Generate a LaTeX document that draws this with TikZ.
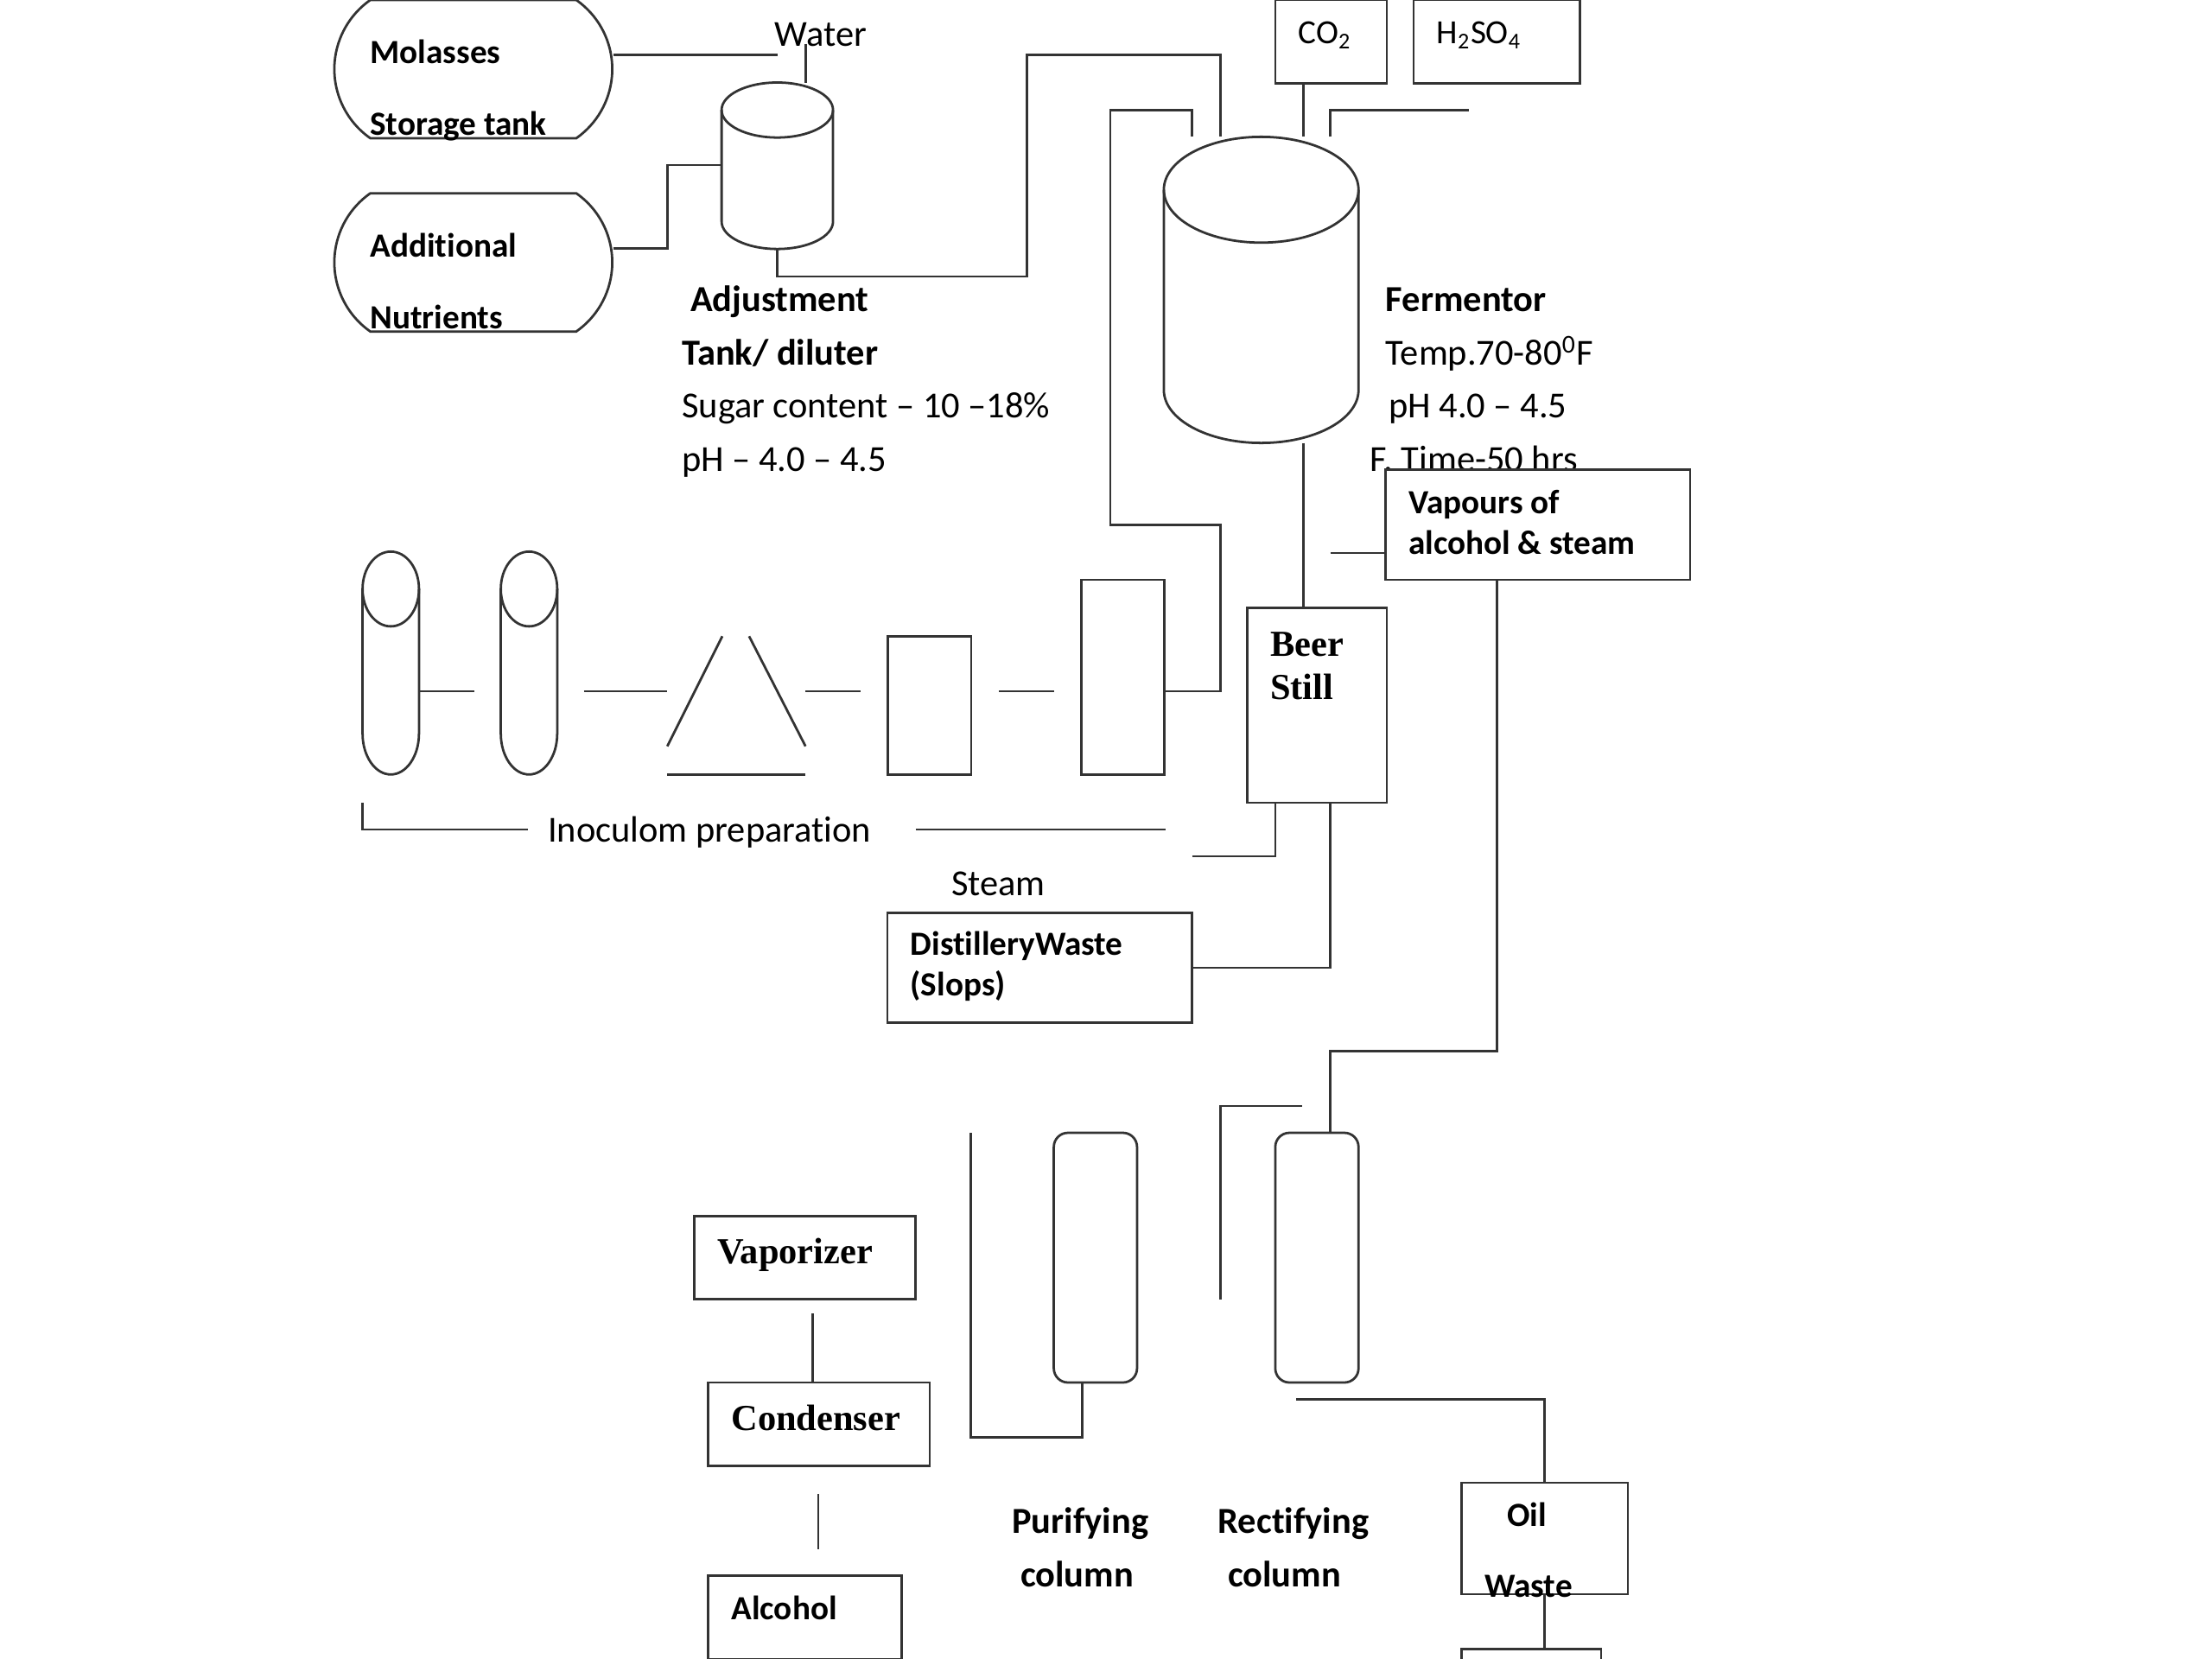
\documentclass[tikz,border=0pt]{standalone}
\usepackage{fontspec}
\setmainfont{Carlito}[Ligatures = {TeX, NoCommon}]
\newfontfamily\serifbold{Liberation Serif}
\usetikzlibrary{shapes.misc}
\tikzset{
	pipe/.style = {line width = 0.85pt, draw = black!80, line join = miter},
	box/.style = {rectangle, draw = black!80, line width = 0.85pt, fill = white, inner sep = 0pt},
	tank/.style = {rounded rectangle, rounded rectangle arc length = 110, draw = black!80, line width = 0.85pt, minimum width = 98.5pt, minimum height = 49pt, inner sep = 0pt},
	column/.style = {box, rounded corners = 5pt, minimum width = 29.5pt, minimum height = 88.5pt},
	plain/.style = {anchor = base west, inner sep = 0pt, font = \fontsize{13}{15}\selectfont},
	small/.style = {plain, font = \fontsize{12}{14}\selectfont},
	heavy/.style = {plain, font = \fontsize{13}{15}\selectfont\bfseries},
	heavysmall/.style = {plain, font = \fontsize{12}{14}\selectfont\bfseries},
	times/.style = {plain, font = \fontsize{13}{15}\selectfont\serifbold\bfseries}
}
% name, centre, half width, half height, top and bottom end radius (pt)
\newcommand{\drumnode}[6]{
	\node (#1) at (#2) [rectangle, inner sep = 0pt, outer sep = 0pt, minimum width = 2*#3pt, minimum height = 2*#4pt] {};
	\draw[pipe] ([yshift = -#5pt] #1.north west) -- ([yshift = #6pt] #1.south west)
		arc (180:360:#3pt and #6pt) -- ([yshift = -#5pt] #1.north east);
	\draw[pipe] ([yshift = -#5pt] #1.north) ellipse (#3pt and #5pt);
}
\begin{document}
\begin{tikzpicture}[x = 0.5pt, y = -0.5pt]

	\useasboundingbox (0, 0) rectangle (1568, 1176);
	\clip (0, 0) rectangle (1568, 1176);

	% storage and adjustment
	\node (molasses)  at (335.5,  49) [tank] {};
	\node (nutrients) at (335.5, 186) [tank] {};
	\drumnode{adjust}{551, 117.5}{19.75}{29.5}{9.75}{9.75}
	\drumnode{fermentor}{894, 205.5}{34.5}{54.25}{18.75}{18.75}

	\node (co2)  at (943.5, 29.5) [box, minimum width = 39.5pt, minimum height = 29.5pt] {};
	\node (acid) at (1061, 29.5)  [box, minimum width = 59pt, minimum height = 29.5pt] {};

	% text under the tanks and the clipped fermentor line
	\node (molassesA)  at (262, 45)  [heavysmall] {Molasses};
	\node (molassesB)  at (262, 96)  [heavysmall] {Storage tank};
	\node (nutrientsA) at (262, 182) [heavysmall] {Additional};
	\node (nutrientsB) at (262, 233) [heavysmall] {Nutrients};
	\node (water)      at (549, 33)  [plain] {Water};
	\node (adjustA)    at (489, 221) [heavy] {Adjustment};
	\node (adjustB)    at (483, 259) [heavy] {Tank/ diluter};
	\node (adjustC)    at (483, 296) [plain] {Sugar content -- 10 --18\%};
	\node (adjustD)    at (483, 334) [plain] {pH -- 4.0 -- 4.5};
	\node (fermA)      at (982, 221) [heavy] {Fermentor};
	\node (fermB)      at (982, 259) [plain] {Temp.70-80\textsuperscript{0}F};
	\node (fermC)      at (984, 296) [plain] {pH 4.0 -- 4.5};
	\node (fermD)      at (971, 334) [plain] {F. Time-50 hrs};
	\node (co2text)    at (920, 31)  [small] {CO\textsubscript{2}};
	\node (acidtext)   at (1018, 31) [small] {H\textsubscript{2}SO\textsubscript{4}};

	\node (vapours) at (1090, 372) [box, minimum width = 108pt, minimum height = 39pt] {};
	\node (vapoursA) at (998, 364) [heavysmall] {Vapours of};
	\node (vapoursB) at (998, 393) [heavysmall] {alcohol \& steam};

	% inoculum train
	\drumnode{tubeA}{277, 470}{10}{39.5}{13.25}{14.5}
	\drumnode{tubeB}{375, 470}{10}{39.5}{13.25}{14.5}
	\node (seedA)  at (659, 500)   [box, minimum width = 29.5pt, minimum height = 49pt] {};
	\node (seedB)  at (796, 480)   [box, minimum width = 29.5pt, minimum height = 69pt] {};
	\node (still)  at (933.5, 500) [box, minimum width = 49.5pt, minimum height = 69pt] {};
	\node (stillA) at (900, 465)   [times] {Beer};
	\node (stillB) at (900, 496)   [times] {Still};
	\node (inoculum) at (388, 597) [plain] {Inoculom preparation};
	\node (steam)    at (674, 635) [plain] {Steam};

	\node (slops)  at (737, 686) [box, minimum width = 108pt, minimum height = 39pt] {};
	\node (slopsA) at (645, 677) [heavysmall] {DistilleryWaste};
	\node (slopsB) at (645, 706) [heavysmall] {(Slops)};

	% columns and products
	\node (purify)  at (776.5, 891.5) [column] {};
	\node (rectify) at (933.5, 891.5) [column] {};
	\node (vaporizer) at (570.5, 891.5) [box, minimum width = 78.5pt, minimum height = 29.5pt] {};
	\node (condenser) at (580.5, 1009.5) [box, minimum width = 78.5pt, minimum height = 29.5pt] {};
	\node (alcohol)   at (570.5, 1146.5) [box, minimum width = 68.5pt, minimum height = 29.5pt] {};
	\node (oil)       at (1095, 1090.5)  [box, minimum width = 59pt, minimum height = 39.5pt] {};
	\node (last)      at (1085.5, 1200)  [box, minimum width = 49.5pt, minimum height = 31pt] {};

	\node (vaporizerA) at (508, 896)  [times] {Vaporizer};
	\node (condenserA) at (518, 1014) [times] {Condenser};
	\node (alcoholA)   at (518, 1148) [heavysmall] {Alcohol};
	\node (purifyA)    at (717, 1087) [heavy] {Purifying};
	\node (purifyB)    at (723, 1125) [heavy] {column};
	\node (rectifyA)   at (863, 1087) [heavy] {Rectifying};
	\node (rectifyB)   at (870, 1125) [heavy] {column};
	\node (oilA)       at (1068, 1082) [heavysmall] {Oil};
	\node (oilB)       at (1052, 1132) [heavysmall] {Waste};

	% free ends
	\coordinate (molassesend) at (551, 39);
	\coordinate (waterend)    at (571, 31);
	\coordinate (acidend)     at (1041, 78);
	\coordinate (vapourend)   at (943, 392);
	\coordinate (steamend)    at (845, 607);
	\coordinate (refluxend)   at (923, 784);
	\coordinate (refluxdown)  at (865, 921);
	\coordinate (purifyend)   at (688, 803);
	\coordinate (wasteend)    at (919, 992);

	\draw[pipe] (molasses.east |- molassesend) -- (molassesend);
	\draw[pipe] (waterend) -- (571, 59);
	\draw[pipe] (nutrients.east |- 0, 176) -| (473, 117) -- (adjust.west |- 0, 117);
	\draw[pipe] (adjust.south) |- (728, 196) |- (865, 39) -- (865, 97);
	\draw[pipe] (845, 97) |- (787, 78) |- (865, 372) |- (seedB.east |- 0, 490);
	\draw[pipe] (co2.south -| 924, 0) -- (924, 97);
	\draw[pipe] (943, 97) |- (acidend);
	\draw[pipe] (924, 314) -- (924, 431);
	\draw[pipe] (vapourend) -- (vapours.west |- vapourend);
	\draw[pipe] (1061, 411) |- (943, 745) -- (943, 803);
	\foreach \from/\to in {297/336, 414/473, 571/610, 708/747}
		\draw[pipe] (\from, 490) -- (\to, 490);
	\draw[pipe] (473, 529) -- (512, 451);
	\draw[pipe] (531, 451) -- (571, 529);
	\draw[pipe] (473, 549) -- (571, 549);
	\draw[pipe] (257, 569) |- (374, 588);
	\draw[pipe] (649, 588) -- (826, 588);
	\draw[pipe] (steamend) -| (904, 569);
	\draw[pipe] (943, 569) |- (slops.east |- 0, 686);
	\draw[pipe] (purifyend) |- (767, 1019) -- (767, 980);
	\draw[pipe] (refluxend) -| (refluxdown);
	\draw[pipe] (wasteend) -| (oil.north);
	\draw[pipe] (oil.south) -- (1095, 1169);
	\draw[pipe] (576, 931) -- (576, 980);
	\draw[pipe] (580, 1059) -- (580, 1098);

\end{tikzpicture}
\end{document}
